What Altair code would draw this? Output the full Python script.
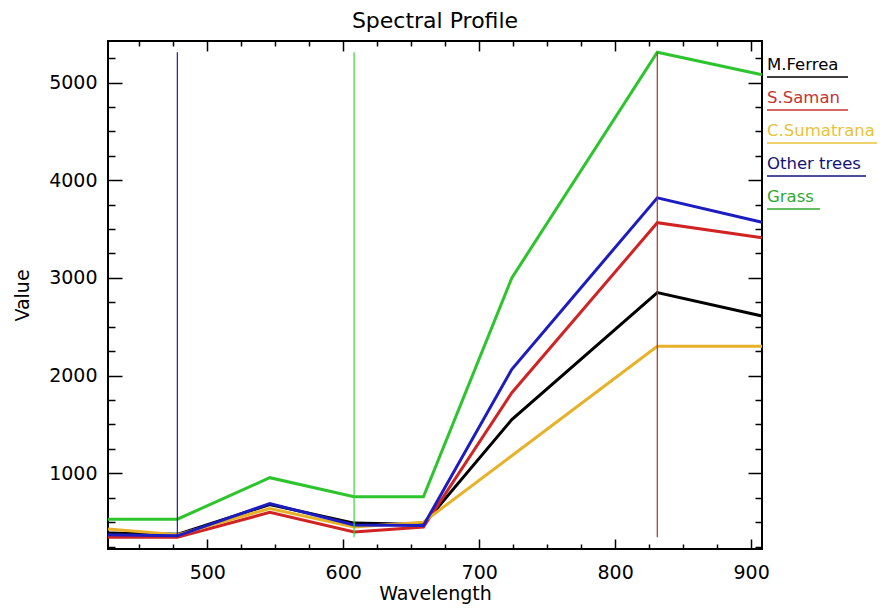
import altair as alt
import pandas as pd

# ---------------- data ----------------
wavelengths = [427, 478, 546, 608, 659, 724, 831, 908]
m_ferrea    = [390, 375, 680, 490, 475, 1550, 2850, 2610]
s_saman     = [345, 345, 600, 400, 450, 1825, 3565, 3410]
c_sumatrana = [430, 370, 640, 450, 500, 1180, 2300, 2300]
other_trees = [370, 360, 690, 470, 465, 2065, 3820, 3570]
grass       = [530, 530, 955, 760, 760, 3000, 5310, 5080]

series_names = ["M.Ferrea", "S.Saman", "C.Sumatrana", "Other trees", "Grass"]
series_values = [m_ferrea, s_saman, c_sumatrana, other_trees, grass]

band_markers = [478, 608, 831]

x_major_ticks = [500, 600, 700, 800, 900]
x_minor_ticks = [450, 475, 525, 550, 575, 625, 650, 675, 725, 750, 775, 825, 850, 875]
y_major_ticks = [1000, 2000, 3000, 4000, 5000]
y_minor_ticks = [250, 500, 750, 1250, 1500, 1750, 2250, 2500, 2750,
                 3250, 3500, 3750, 4250, 4500, 4750, 5250]

# ---------------- styles ----------------
line_colors = ["#000000", "#d02424", "#e8b12a", "#1c1cc0", "#2dc42d"]
legend_text_colors = ["#000000", "#c83232", "#e6c23c", "#141478", "#32a832"]
band_marker_colors = ["#1c1c9c", "#3ad43a", "#b03030"]
legend_underline_px = [81, 81, 112, 99, 53]

FONT = "DejaVu Sans"
W, H = 654, 508

# ---------------- tables ----------------
rows = []
for name, vals in zip(series_names, series_values):
    for wl, v in zip(wavelengths, vals):
        rows.append({"series": name, "wavelength": wl, "value": v})
df = pd.DataFrame(rows)

all_vals = [v for vals in series_values for v in vals]
rule_df = pd.DataFrame({
    "band": [str(b) for b in band_markers],
    "wavelength": band_markers,
    "lo": [min(all_vals)] * len(band_markers),
    "hi": [max(all_vals)] * len(band_markers),
})

legend_df = pd.DataFrame({
    "name": series_names,
    "u0": [0] * len(series_names),
    "ulen": legend_underline_px,
})

xs = alt.Scale(domain=[427, 908], nice=False, zero=False)
ys = alt.Scale(domain=[225, 5425], nice=False, zero=False)

base = alt.Chart(df)

lines = base.mark_line(strokeWidth=3).encode(
    x=alt.X("wavelength:Q", scale=xs,
            axis=alt.Axis(orient="bottom", values=x_major_ticks, ticks=False, domain=False,
                          grid=False, format="d", labelFont=FONT, labelFontSize=19,
                          labelPadding=14, labelColor="black", title="Wavelength",
                          titleFont=FONT, titleFontSize=19, titleFontWeight="normal",
                          titlePadding=2, titleColor="black")),
    y=alt.Y("value:Q", scale=ys,
            axis=alt.Axis(orient="left", values=y_major_ticks, ticks=False, domain=False,
                          grid=False, format="d", labelFont=FONT, labelFontSize=19,
                          labelPadding=11, labelColor="black", title="Value",
                          titleFont=FONT, titleFontSize=19, titleFontWeight="normal",
                          titlePadding=16, titleColor="black")),
    color=alt.Color("series:N", scale=alt.Scale(domain=series_names, range=line_colors),
                    legend=None),
)


def tick_layer(xorient, yorient, xvals, yvals, xlen, ylen):
    return base.mark_point(opacity=0).encode(
        x=alt.X("wavelength:Q", scale=xs,
                axis=alt.Axis(orient=xorient, values=xvals, offset=-xlen, tickSize=xlen,
                              labels=False, domain=False, grid=False, title=None,
                              tickColor="black", tickWidth=1.5)),
        y=alt.Y("value:Q", scale=ys,
                axis=alt.Axis(orient=yorient, values=yvals, offset=-ylen, tickSize=ylen,
                              labels=False, domain=False, grid=False, title=None,
                              tickColor="black", tickWidth=1.5)),
    )


t1 = tick_layer("bottom", "left", x_major_ticks, y_major_ticks, 10, 14)
t2 = tick_layer("bottom", "left", x_minor_ticks, y_minor_ticks, 5, 7)
t3 = tick_layer("top", "right", x_major_ticks, y_major_ticks, 10, 14)
t4 = tick_layer("top", "right", x_minor_ticks, y_minor_ticks, 5, 7)

rules = alt.Chart(rule_df).mark_rule(strokeWidth=1.2).encode(
    x=alt.X("wavelength:Q", scale=xs, axis=None),
    y=alt.Y("lo:Q", scale=ys, axis=None),
    y2="hi:Q",
    color=alt.Color("band:N", scale=alt.Scale(domain=[str(b) for b in band_markers],
                                              range=band_marker_colors), legend=None),
)

lx = alt.X("u0:Q", scale=alt.Scale(domain=[0, 100], range=[W + 5, W + 105]), axis=None)
ly = alt.Y("name:N", scale=alt.Scale(type="point", domain=series_names, range=[29, 161],
                                     padding=0), axis=None)
lcolor = alt.Color("name:N", scale=alt.Scale(domain=series_names, range=legend_text_colors),
                   legend=None)

legend_text = alt.Chart(legend_df).mark_text(
    align="left", baseline="alphabetic", font=FONT, fontSize=16.5
).encode(x=lx, y=ly, text="name:N", color=lcolor)

legend_lines = alt.Chart(legend_df).mark_rule(strokeWidth=1.5, yOffset=7).encode(
    x=lx, x2="ulen:Q", y=ly, color=lcolor)

chart = alt.layer(
    lines, rules, t1, t2, t3, t4, legend_text, legend_lines
).resolve_scale(
    x="independent", y="independent", color="independent"
).resolve_axis(
    x="independent", y="independent"
).properties(
    width=W, height=H,
    title=alt.TitleParams("Spectral Profile", font=FONT, fontSize=22, fontWeight="normal",
                          offset=7, color="black", anchor="middle", frame="group"),
    padding={"left": 100, "top": 33, "right": 115, "bottom": 62},
    autosize=alt.AutoSizeParams(type="none"),
    background="white",
).configure_view(stroke="black", strokeWidth=2)

chart.save("out.html", embed_options={"renderer": "svg", "actions": False})
